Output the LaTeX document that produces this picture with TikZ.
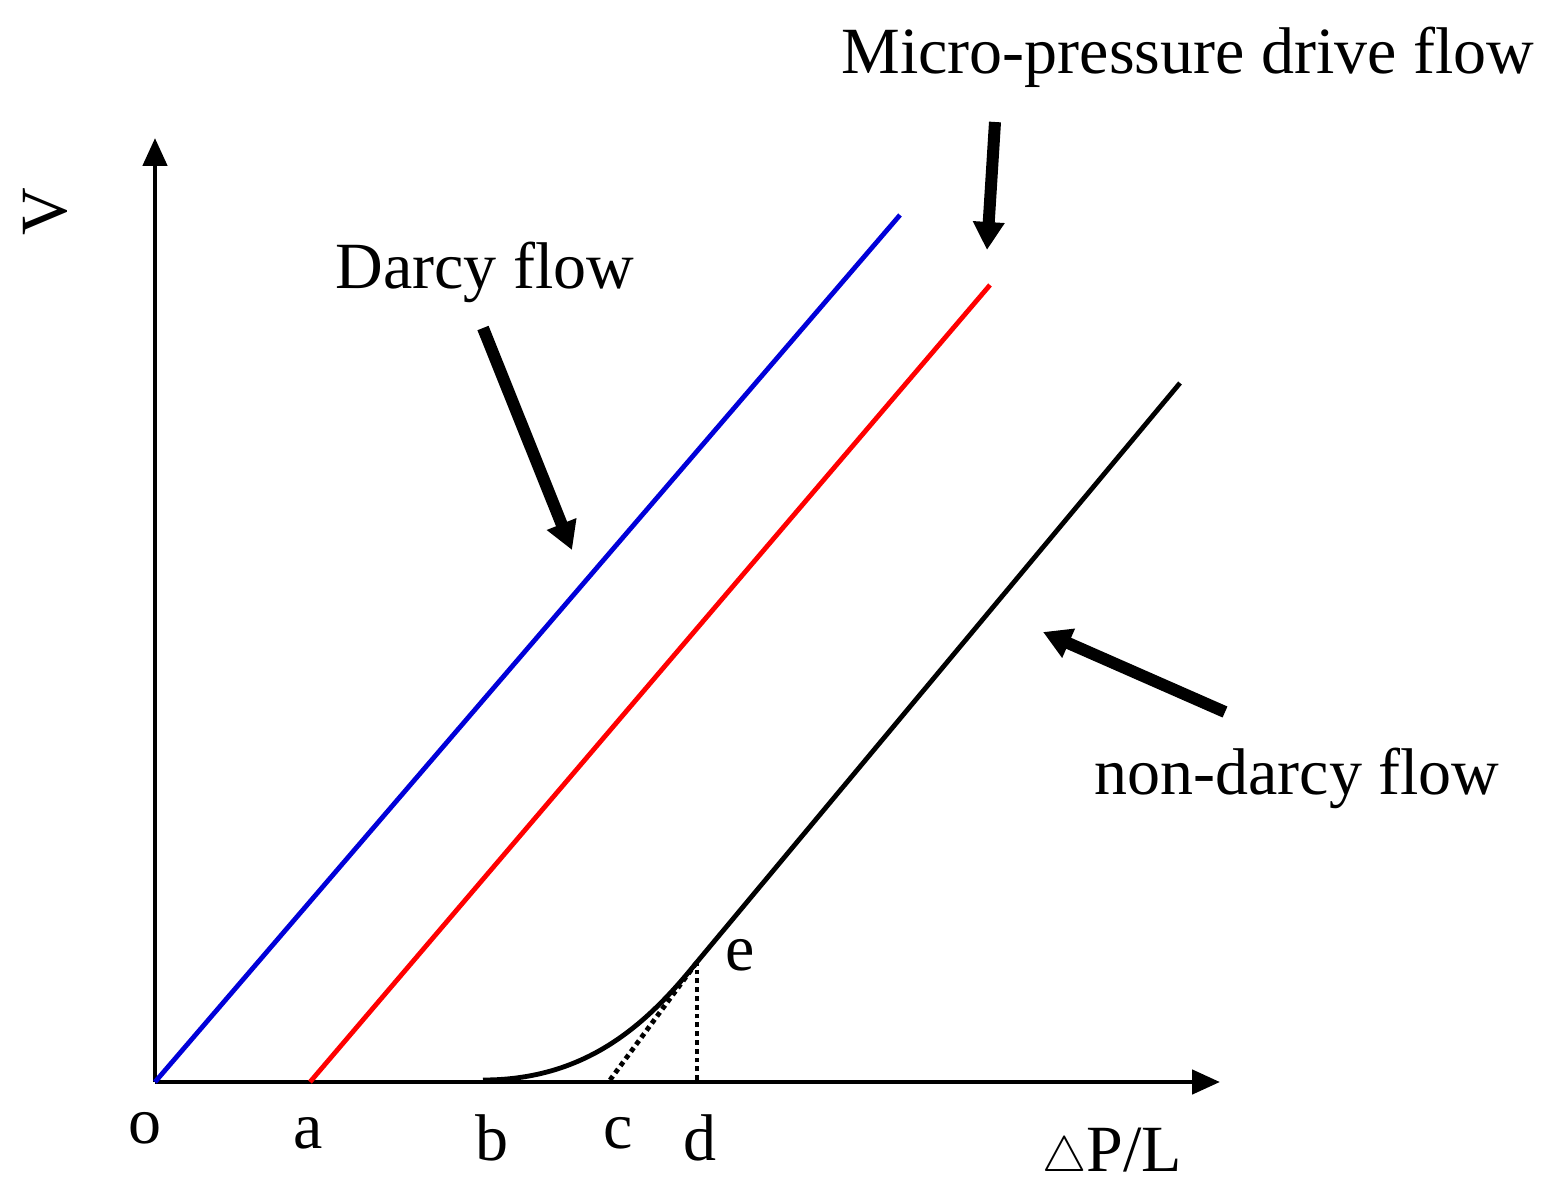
\documentclass[tikz,border=0pt]{standalone}
\usepackage{fontspec}
\setmainfont{Liberation Serif}
\usetikzlibrary{arrows.meta}
\begin{document}
\begin{tikzpicture}[x=0.5pt,y=-0.5pt,
  lbl/.style={font=\fontsize{33}{40}\selectfont, inner sep=0pt},
  bigarrow/.style={line width=6pt,-{Triangle[length=14pt,width=15pt]}},
  axis/.style={line width=2.4pt,-{Triangle[length=14pt,width=12pt]}}]
\useasboundingbox (0,0) rectangle (1553,1204);
\coordinate (O) at (155,1082);
\coordinate (Ytop) at (155,138);
\coordinate (Xend) at (1220,1082);
\draw[axis] (O) -- (Ytop);
\draw[axis] (O) -- (Xend);
\coordinate (B1) at (900,215);
\coordinate (A) at (310,1082);
\coordinate (R1) at (990,285);
\coordinate (Bp) at (483,1080);
\coordinate (E) at (697,962);
\coordinate (K1) at (1180,383);
\coordinate (C) at (610,1080);
\coordinate (D) at (697,1080);
\draw[blue!85!black, line width=2.4pt] (O) -- (B1);
\draw[red, line width=2.4pt] (A) -- (R1);
\draw[line width=2.4pt] (Bp) .. controls (590,1080) and (650,1020) .. (E) -- (K1);
\draw[line width=2.4pt, dotted] (C) -- (E);
\draw[line width=2.4pt, dotted] (D) -- (E);
\node[lbl] (lo) at (145,1128) {o};
\node[lbl] (la) at (308,1133) {a};
\node[lbl] (lb) at (492,1138) {b};
\node[lbl] (lc) at (618,1133) {c};
\node[lbl] (ld) at (700,1138) {d};
\node[lbl] (le) at (740,955) {e};
\node[lbl] (lx) at (1112,1155) {$\triangle$P/L};
\node[lbl, rotate=90] (lv) at (45,212) {V};
\node[lbl] (darcy) at (485,272) {Darcy flow};
\node[lbl] (micro) at (1188,57) {Micro-pressure drive flow};
\node[lbl] (non) at (1297,778) {non-darcy flow};
\coordinate (d1) at (483,328); \coordinate (d2) at (572,550);
\coordinate (m1) at (995,122); \coordinate (m2) at (987,250);
\coordinate (n1) at (1225,712); \coordinate (n2) at (1043,632);
\draw[bigarrow] (d1) -- (d2);
\draw[bigarrow] (m1) -- (m2);
\draw[bigarrow] (n1) -- (n2);
\end{tikzpicture}
\end{document}
